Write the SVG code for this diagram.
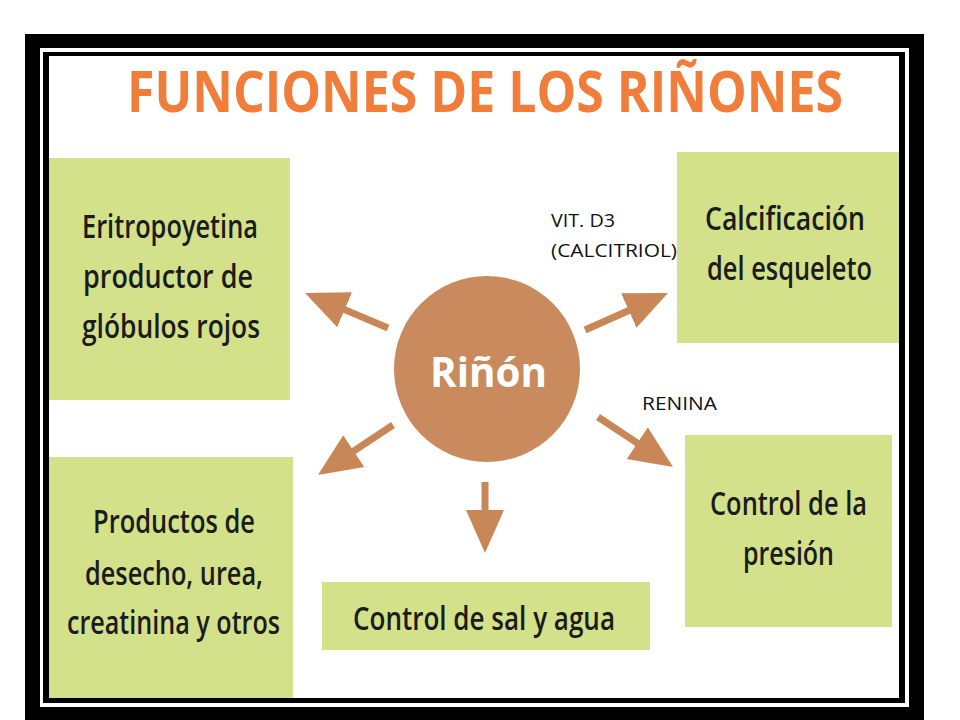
<svg xmlns="http://www.w3.org/2000/svg" width="960" height="720" viewBox="0 0 960 720">
<style>
.box{fill:#D3E18B;}
.bt{font-family:"Open Sans","Noto Sans",sans-serif;font-weight:600;font-size:33px;fill:#1c1c1c;}
.lbl{font-family:"Open Sans","Noto Sans",sans-serif;font-size:18px;fill:#111;}
.arr{stroke:#C98757;stroke-width:7;fill:none;marker-end:url(#ah);}
</style>
<defs>
<marker id="ah" markerUnits="userSpaceOnUse" viewBox="0 -20 44 40" markerWidth="44" markerHeight="40" refX="2" refY="0" orient="auto">
<path d="M0,-19 L43,0 L0,19 Z" fill="#C98757"/>
</marker>
</defs>
<rect x="0" y="0" width="960" height="720" fill="#ffffff"/>
<g id="frame">
<rect x="25" y="34" width="899" height="700" fill="#000"/>
<rect x="40" y="48" width="869" height="659" fill="#fff"/>
<rect x="43" y="52" width="862" height="651" fill="#000"/>
<rect x="49" y="56" width="850" height="642" fill="#fff"/>
</g>
<g id="title">
<text x="127" y="112" textLength="716" lengthAdjust="spacingAndGlyphs" font-family="'Open Sans','Noto Sans',sans-serif" font-weight="700" font-size="58" fill="#F07D3A">FUNCIONES DE LOS RIÑONES</text>
</g>
<g id="connectors">
<line class="arr" x1="388" y1="328" x2="342.8" y2="308.9"/>
<line class="arr" x1="585" y1="330" x2="630.6" y2="309.7"/>
<line class="arr" x1="393" y1="425" x2="352.1" y2="452.2"/>
<line class="arr" x1="598" y1="417" x2="638.9" y2="444.2"/>
<line class="arr" x1="485" y1="482" x2="485" y2="512"/>
</g>
<g id="node-rinon">
<circle cx="487" cy="369" r="93" fill="#C98A5E"/>
<text x="488.5" y="387" text-anchor="middle" textLength="117" lengthAdjust="spacingAndGlyphs" font-family="'Open Sans','Noto Sans',sans-serif" font-weight="700" font-size="42" fill="#fff">Riñón</text>
</g>
<g id="node-eritropoyetina">
<rect class="box" x="49" y="158" width="241" height="242"/>
<text class="bt" x="170" y="238" text-anchor="middle" textLength="176" lengthAdjust="spacingAndGlyphs">Eritropoyetina</text>
<text class="bt" x="168" y="288" text-anchor="middle" textLength="170" lengthAdjust="spacingAndGlyphs">productor de</text>
<text class="bt" x="171" y="338" text-anchor="middle" textLength="178" lengthAdjust="spacingAndGlyphs">glóbulos rojos</text>
</g>
<g id="node-calcificacion">
<rect class="box" x="677" y="152" width="222" height="191"/>
<text class="bt" x="785" y="230" text-anchor="middle" textLength="160" lengthAdjust="spacingAndGlyphs">Calcificación</text>
<text class="bt" x="789.5" y="280" text-anchor="middle" textLength="165" lengthAdjust="spacingAndGlyphs">del esqueleto</text>
</g>
<g id="node-productos">
<rect class="box" x="49" y="457" width="244" height="241"/>
<text class="bt" x="174" y="533" text-anchor="middle" textLength="162" lengthAdjust="spacingAndGlyphs">Productos de</text>
<text class="bt" x="174" y="585" text-anchor="middle" textLength="178" lengthAdjust="spacingAndGlyphs">desecho, urea,</text>
<text class="bt" x="173.5" y="634" text-anchor="middle" textLength="213" lengthAdjust="spacingAndGlyphs">creatinina y otros</text>
</g>
<g id="node-sal-agua">
<rect class="box" x="322" y="582" width="328" height="68"/>
<text class="bt" x="484" y="630" text-anchor="middle" textLength="262" lengthAdjust="spacingAndGlyphs">Control de sal y agua</text>
</g>
<g id="node-presion">
<rect class="box" x="685" y="435" width="207" height="192"/>
<text class="bt" x="788.5" y="515" text-anchor="middle" textLength="157" lengthAdjust="spacingAndGlyphs">Control de la</text>
<text class="bt" x="788.5" y="565" text-anchor="middle" textLength="91" lengthAdjust="spacingAndGlyphs">presión</text>
</g>
<g id="labels">
<text class="lbl" x="551" y="227" textLength="64" lengthAdjust="spacingAndGlyphs">VIT. D3</text>
<text class="lbl" x="551" y="257" textLength="126" lengthAdjust="spacingAndGlyphs">(CALCITRIOL)</text>
<text class="lbl" x="642" y="410" textLength="75" lengthAdjust="spacingAndGlyphs">RENINA</text>
</g>
</svg>
